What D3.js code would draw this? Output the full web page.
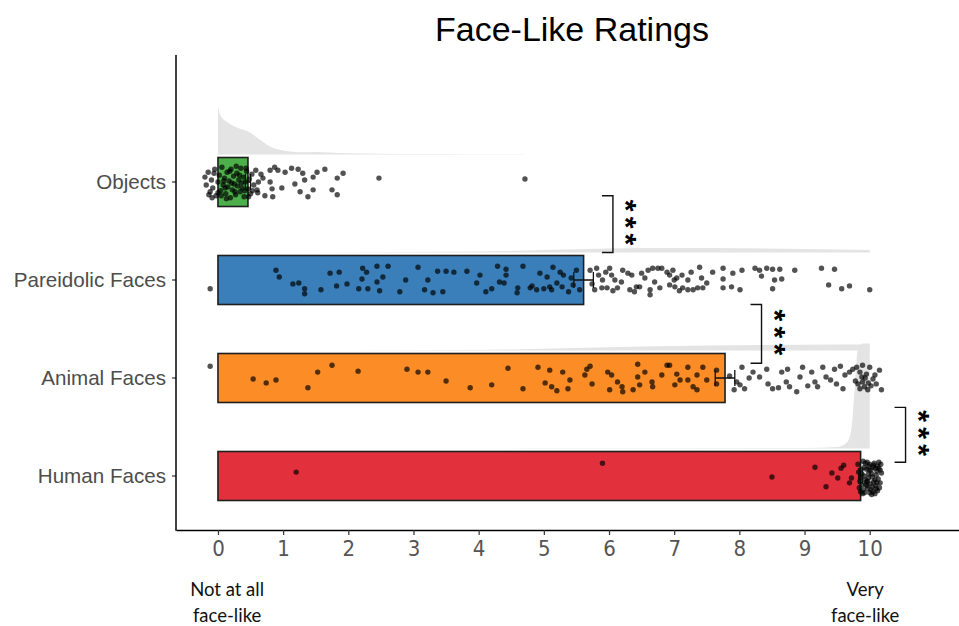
<!DOCTYPE html>
<html>
<head>
<meta charset="utf-8">
<script src="https://cdn.jsdelivr.net/npm/d3@7"></script>
<style>
  body { margin: 0; background: #fff; }
  svg { display: block; }
</style>
</head>
<body>
<div id="chartTarget"></div>
<script>
// categories top to bottom
const categories = ["Objects", "Pareidolic Faces", "Animal Faces", "Human Faces"];
const meanRatings = [0.46, 5.61, 7.78, 9.86];
const seRatings = [0.04, 0.15, 0.15, 0.03];
const barColors = ["#4caf4a", "#3a7fba", "#fc8c25", "#e3303d"];
const xTicks = [0, 1, 2, 3, 4, 5, 6, 7, 8, 9, 10];

// jittered ratings: [rating, vertical jitter in category steps]
const objectsPoints = [
  [-0.2,-0.05],[-0.18,0.03],[-0.15,-0.1],[-0.12,0.1],[-0.1,-0.02],[-0.08,0.06],[-0.05,-0.13],[-0.03,0.14],
  [0,0.0],[0.02,-0.07],[0.04,0.09],[0.06,-0.15],[0.08,0.03],[0.1,-0.04],[0.12,0.12],[0.14,-0.1],
  [0.15,0.05],[0.17,-0.01],[0.19,0.16],[0.2,-0.13],[0.22,0.08],[0.24,-0.06],[0.25,0.02],[0.27,0.13],
  [0.29,-0.09],[0.3,0.04],[0.32,-0.02],[0.34,0.1],[0.35,-0.14],[0.37,0.06],[0.39,-0.05],[0.4,0.15],
  [0.42,0.0],[0.44,-0.11],[0.46,0.07],[0.48,-0.03],[0.5,0.12],[0.52,-0.08],[0.55,0.03],[0.58,-0.12],
  [-0.14,0.13],[-0.06,-0.09],[0.05,0.14],[0.11,0.06],[0.18,-0.11],[0.26,0.1],[0.33,-0.07],[0.41,0.09],
  [0.47,0.15],[0.53,0.09],[0.62,0.0],[0.66,-0.08],[0.0,0.11],[0.09,-0.01],[0.21,0.01],[0.36,0.01],
  [0.43,-0.14],[-0.09,0.16],[0.13,0.17],[0.28,-0.16],
  [0.80,-0.12],[0.87,-0.15],[0.92,-0.12],[1.03,-0.10],[1.13,-0.14],[1.23,-0.13],[1.30,-0.09],[1.52,-0.10],
  [1.64,-0.13],[1.92,-0.09],[1.83,-0.04],[1.46,-0.05],[1.33,-0.02],[1.18,0.02],[1.26,0.10],[1.46,0.08],
  [1.38,0.15],[1.75,0.08],[1.83,0.13],[0.98,0.06],[0.83,0.07],[0.72,0.14],[0.84,0.15],[0.61,0.11],
  [0.80,0.00],[0.69,-0.04],[2.47,-0.04],[4.71,-0.03],[0.60,0.08]
];
const pareidolicPoints = [
  [-0.12,0.09],
  [0.89,-0.10],[0.94,-0.03],[1.15,0.04],[1.24,0.03],[1.33,0.09],[1.33,0.14],[1.58,0.10],[1.72,-0.07],
  [1.86,-0.08],[1.82,0.06],[1.98,0.04],[2.16,0.09],[2.22,-0.12],[2.28,-0.08],[2.21,-0.01],[2.30,0.09],
  [2.44,-0.14],[2.53,-0.03],[2.44,0.02],[2.48,0.11],[2.61,-0.14],[2.79,0.12],[2.88,0.0],[3.07,-0.13],
  [3.22,0.0],[3.17,0.10],[3.30,0.13],[3.37,-0.09],[3.50,-0.09],[3.45,0.12],[3.62,-0.08],[3.82,-0.09],
  [3.97,0.03],[4.02,-0.05],[4.11,0.12],[4.20,0.09],[4.29,-0.14],[4.42,-0.11],[4.42,-0.05],[4.32,0.02],
  [4.39,0.03],[4.60,0.08],[4.59,0.13],[4.68,-0.14],[4.82,0.06],[4.89,0.10],[4.94,-0.07],[5.05,-0.03],
  [5.09,0.07],[5.14,-0.13],[5.25,-0.08],[5.20,0.03],[5.28,0.07],[4.79,0.08],[5.30,-0.05],[5.45,0.05],
  [5.50,-0.10],[5.55,0.10],[5.38,0.12],[5.42,-0.02],[5.12,0.1],[5.0,0.09],
  [5.71,-0.10],[5.81,-0.12],[5.90,0.0],[6.01,-0.12],[6.04,-0.05],[6.09,0.0],[6.21,-0.10],[6.29,-0.07],
  [6.35,-0.05],[6.50,-0.07],[6.60,-0.10],[6.67,-0.12],[6.75,-0.12],[6.81,-0.12],[6.89,-0.08],[6.93,-0.05],
  [7.04,-0.02],[7.12,-0.05],[7.21,0.0],[7.39,-0.13],[7.42,-0.02],[7.59,-0.08],[7.75,-0.12],[7.75,-0.01],
  [5.89,0.08],[5.97,0.08],[6.32,0.10],[6.47,0.07],[6.63,0.10],[6.63,0.15],[6.78,0.08],[6.93,0.05],
  [7.01,0.07],[7.13,0.08],[7.21,0.10],[7.29,0.10],[7.36,0.08],[7.44,0.08],[7.75,0.08],[7.88,0.07],
  [8.01,0.10],[8.04,-0.10],[7.90,-0.07],[8.24,-0.12],[8.31,-0.10],[8.42,-0.12],[8.51,-0.11],[8.62,-0.11],
  [8.34,-0.04],[8.54,0.0],[8.65,-0.01],[8.51,0.09],[8.85,-0.10],[9.26,-0.12],[9.46,-0.11],[9.37,0.05],
  [9.57,0.09],[9.69,0.06],[10.0,0.10],[6.42,0.07],[6.13,0.08],[5.78,0.10],[5.84,-0.05],[6.19,0.02],
  [5.74,0.04],[6.06,0.11],[6.55,-0.02],[6.70,0.02],[7.08,0.11],[7.26,-0.08],[6.98,-0.1],[6.39,0.12],
  [5.95,-0.08],[7.5,0.03],[7.0,0.0]
];
const animalPoints = [
  [-0.12,-0.12],[0.54,0.01],[0.74,0.05],[0.89,0.02],[1.38,0.10],[1.53,-0.06],[1.75,-0.13],[2.15,-0.07],
  [3.07,-0.06],[3.22,-0.06],[3.50,0.03],[3.87,0.10],[4.45,-0.10],[4.68,0.11],[4.91,-0.11],[5.09,-0.08],
  [5.02,0.05],[5.12,0.09],[5.20,0.13],[5.29,-0.06],[5.40,0.02],[5.37,0.11],[5.66,-0.09],[5.71,-0.12],
  [5.63,-0.03],[5.74,0.06],[5.98,-0.06],[6.04,-0.03],[6.01,0.12],[6.13,0.04],[6.20,0.09],[6.21,0.14],
  [6.44,-0.14],[6.44,-0.01],[6.47,0.07],[6.37,0.12],[6.55,-0.06],[6.66,0.04],[6.67,0.09],[6.81,-0.03],
  [6.89,-0.13],[6.93,-0.13],[7.01,0.07],[7.04,-0.04],[7.09,0.02],[7.21,-0.11],[7.21,0.02],[7.29,0.09],
  [7.35,-0.03],[7.44,-0.11],[7.50,0.02],[7.35,0.12],[7.65,-0.08],[7.65,0.06],
  [7.96,0.04],[8.01,0.07],[8.08,0.11],[8.04,-0.11],[8.21,-0.06],[8.31,-0.01],[8.42,-0.09],[8.44,0.06],
  [8.51,0.11],[8.65,-0.06],[8.74,-0.09],[8.72,0.04],[8.77,0.09],[8.88,0.14],[8.93,-0.01],[8.97,-0.11],
  [9.11,-0.06],[9.16,0.04],[9.20,0.09],[9.28,-0.11],[9.33,-0.01],[9.46,-0.09],[9.49,0.06],[9.59,0.11],
  [9.62,-0.03],[9.69,-0.06],[9.74,-0.09],[9.80,-0.11],[9.85,-0.06],[9.88,-0.01],[9.89,0.04],[9.92,0.09],
  [9.97,0.12],[10.0,-0.11],[10.05,0.01],[10.1,0.06],[10.15,-0.08],[10.18,0.12],[9.82,0.06],[9.85,0.11],
  [9.89,-0.13],[9.95,-0.04],[10.02,0.08],[9.93,0.0],[9.78,0.03],[10.08,-0.03],[9.98,0.05],[7.85,-0.02],
  [7.92,0.12],[8.15,0.0],[8.6,0.1],[9.05,0.08],[9.4,0.02],[9.55,-0.12],[2.9,-0.09],[4.2,0.07]
];
const humanPoints = [
  [1.20,-0.04],[5.90,-0.13],[8.50,0.01],[9.16,-0.09],[9.33,0.11],[9.42,-0.03],[9.51,0.02],[9.56,-0.08],
  [9.60,-0.11],[9.72,0.02],[9.69,0.07],
  [9.82,-0.12],[9.85,0.05],[9.88,-0.02],[9.9,0.14],[9.92,-0.09],[9.94,0.09],[9.96,-0.14],[9.98,0.02],
  [10.0,0.17],[10.02,-0.06],[10.04,0.11],[10.06,-0.11],[10.08,0.04],[10.1,-0.01],[10.12,0.15],[10.14,-0.08],
  [10.16,0.07],[10.18,-0.03],[9.84,0.12],[9.87,-0.07],[9.89,0.18],[9.91,0.0],[9.93,-0.13],[9.95,0.06],
  [9.97,0.13],[9.99,-0.1],[10.01,0.08],[10.03,-0.02],[10.05,0.16],[10.07,-0.13],[10.09,0.1],[10.11,-0.05],
  [10.13,0.03],[10.15,0.12],[10.17,-0.12],[9.83,-0.04],[9.86,0.16],[9.9,-0.15],[9.93,0.04],[9.96,0.1],
  [9.99,-0.06],[10.02,0.14],[10.05,-0.09],[10.08,0.18],[10.11,0.07],[10.14,-0.14],[9.86,0.01],[9.92,0.17],
  [9.98,-0.02],[10.04,0.01],[10.1,0.13],[10.16,-0.06],[9.95,-0.07],[10.0,-0.12],[10.06,0.06],[10.12,-0.1],
  [9.88,0.09],[10.03,0.19],[9.97,0.05],[10.09,-0.08]
];

// half-violin densities: [rating, density]
const objectsDensity = [[0,0.96],[0.03,0.8],[0.15,0.64],[0.29,0.54],[0.49,0.44],[0.64,0.3],[0.8,0.16],[1.0,0.08],
  [1.3,0.045],[1.5,0.05],[1.7,0.04],[2.0,0.025],[2.5,0.015],[3.0,0.008],[4.0,0.005],[4.7,0.004]];
const pareidolicDensity = [[-0.1,0.0],[2,0.005],[4,0.02],[5,0.05],[6,0.08],[7,0.09],[8,0.085],[9,0.07],[10,0.05]];
const animalDensity = [[-0.1,0.0],[3,0.005],[4.5,0.02],[5.5,0.05],[6.5,0.08],[7.5,0.1],[8.5,0.11],[9.5,0.12],[10,0.12]];
const humanDensity = [[1.2,0.0],[5,0.003],[9,0.01],[9.5,0.03],[9.65,0.12],[9.72,0.4],[9.77,1.2],[9.82,2.0],[9.9,2.1],[10,2.1]];

// significance brackets: x in rating units, y1/y2 in category index units
const brackets = [
  {x: 6.06, y1: 0.14, y2: 0.72, label: "***"},
  {x: 8.34, y1: 1.25, y2: 1.85, label: "***"},
  {x: 10.55, y1: 2.30, y2: 2.86, label: "***"}
];

const pointSets = [objectsPoints, pareidolicPoints, animalPoints, humanPoints];
const densitySets = [objectsDensity, pareidolicDensity, animalDensity, humanDensity];

function drawChart() {
  let width = 959;
  let height = 626;
  let el = document.querySelector('#chartTarget');

  let svg = d3.select(el).append('svg')
    .attr('width', width)
    .attr('height', height)
    .style('font-family', '"Liberation Sans", Arial, sans-serif');

  let x = d3.scaleLinear()
    .domain([-0.644, 11.37])
    .range([176, 959]);

  let y = d3.scaleBand()
    .domain(categories)
    .range([133, 525])
    .paddingInner(0.5)
    .paddingOuter(0.25);

  // category index -> pixel centre
  let yPos = d3.scaleLinear()
    .domain([0, categories.length - 1])
    .range([y(categories[0]) + y.bandwidth() / 2, y(categories[categories.length - 1]) + y.bandwidth() / 2]);

  let dens = d3.scaleLinear().domain([0, 1]).range([0, 50]);

  // densities
  let area = d3.area()
    .curve(d3.curveMonotoneX)
    .x(d => x(d[0]));

  densitySets.forEach((ds, i) => {
    let base = yPos(i) - 27.5;
    svg.append('path')
      .datum(ds)
      .attr('fill', '#e4e4e4')
      .attr('d', area.y0(base).y1(d => base - dens(d[1])));
  });

  // bars
  svg.selectAll('.bar')
    .data(categories)
    .enter().append('rect')
      .attr('class', 'bar')
      .attr('x', x(0))
      .attr('y', d => y(d))
      .attr('width', (d, i) => x(meanRatings[i]) - x(0))
      .attr('height', y.bandwidth())
      .attr('fill', (d, i) => barColors[i])
      .attr('stroke', '#1e1e1e')
      .attr('stroke-width', 1.6);

  // points
  pointSets.forEach((pts, i) => {
    svg.append('g').selectAll('circle')
      .data(pts)
      .enter().append('circle')
        .attr('cx', d => x(d[0]))
        .attr('cy', d => yPos(i + d[1]))
        .attr('r', 2.7)
        .attr('fill', '#000')
        .attr('fill-opacity', 0.68);
  });

  // error bars
  let eb = svg.append('g').attr('stroke', '#111').attr('stroke-width', 1.3).attr('fill', 'none');
  categories.forEach((c, i) => {
    let cy = yPos(i);
    let x1 = x(meanRatings[i] - seRatings[i]);
    let x2 = x(meanRatings[i] + seRatings[i]);
    eb.append('path').attr('d', `M${x1},${cy}H${x2}M${x1},${cy - 8}V${cy + 8}M${x2},${cy - 8}V${cy + 8}`);
  });

  // axes
  let xAxis = d3.axisBottom(x)
    .tickValues(xTicks)
    .tickSizeInner(5)
    .tickSizeOuter(0)
    .tickPadding(5);

  let gx = svg.append('g')
    .attr('transform', `translate(0, 530)`)
    .call(xAxis);
  gx.select('.domain').attr('stroke', '#000').attr('stroke-width', 1.5);
  gx.selectAll('.tick line').attr('stroke', '#333').attr('stroke-width', 1.2);
  gx.selectAll('.tick text')
    .attr('fill', '#555')
    .style('font-family', '"Liberation Sans Narrow", "DejaVu Sans Condensed", sans-serif')
    .style('font-size', '22px');

  let yAxis = d3.axisLeft(y)
    .tickSizeInner(4)
    .tickSizeOuter(0)
    .tickPadding(6);

  let gy = svg.append('g')
    .attr('transform', `translate(176, 0)`)
    .call(yAxis);
  gy.select('.domain').remove();
  gy.selectAll('.tick line').attr('stroke', '#333').attr('stroke-width', 1.2);
  gy.selectAll('.tick text')
    .attr('fill', '#4d4d4d')
    .style('font-family', '"Liberation Sans", Arial, sans-serif')
    .style('font-size', '20.6px');

  svg.append('line')
    .attr('x1', 176).attr('x2', 176)
    .attr('y1', 55).attr('y2', 530.75)
    .attr('stroke', '#000')
    .attr('stroke-width', 1.5);

  // significance brackets
  brackets.forEach(b => {
    let bx = x(b.x);
    let t = yPos(b.y1), btm = yPos(b.y2);
    svg.append('path')
      .attr('d', `M${bx - 11},${t}H${bx}V${btm}H${bx - 11}`)
      .attr('fill', 'none')
      .attr('stroke', '#111')
      .attr('stroke-width', 1.4);
    // stars stacked vertically, drawn as one rotated string
    svg.append('text')
      .attr('transform', `translate(${bx + 21}, ${(t + btm) / 2 + 1}) rotate(90)`)
      .attr('y', '0.6em')
      .attr('text-anchor', 'middle')
      .style('font-size', '30px')
      .style('font-weight', 'bold')
      .style('letter-spacing', '5.3px')
      .attr('fill', '#000')
      .text(b.label);
  });

  // title
  svg.append('text')
    .attr('x', 572)
    .attr('y', 41)
    .attr('text-anchor', 'middle')
    .style('font-size', '34px')
    .attr('fill', '#000')
    .text('Face-Like Ratings');

  // anchors under axis
  let anchors = [
    {x: 0.14, lines: ['Not at all', 'face-like']},
    {x: 9.93, lines: ['Very', 'face-like']}
  ];
  anchors.forEach(a => {
    a.lines.forEach((ln, k) => {
      svg.append('text')
        .attr('x', x(a.x))
        .attr('y', 596 + k * 26)
        .attr('text-anchor', 'middle')
        .style('font-family', 'Lato, "Open Sans", sans-serif')
        .style('font-size', '18.5px')
        .attr('fill', '#111')
        .text(ln);
    });
  });
}

drawChart();
</script>
</body>
</html>
